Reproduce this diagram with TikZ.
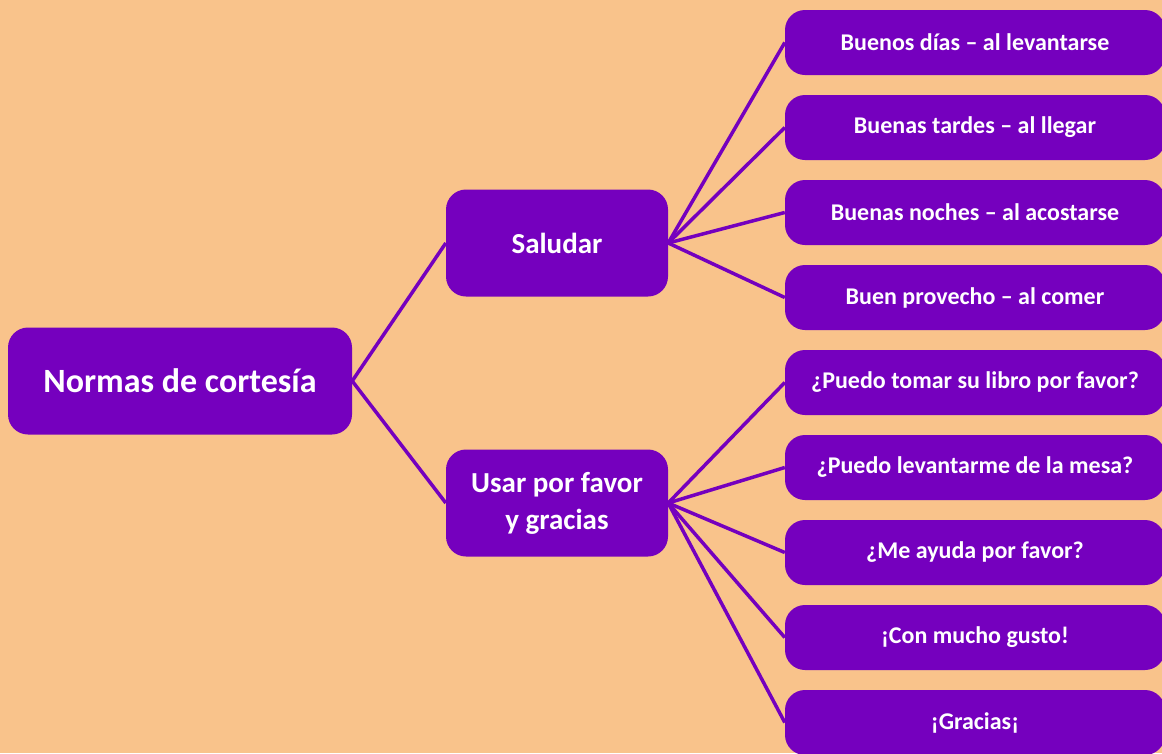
\documentclass[tikz,border=0pt]{standalone}
\usepackage{fontspec}
\setmainfont{Carlito}
\usetikzlibrary{positioning}
\definecolor{fondo}{HTML}{F9C38B}
\definecolor{morado}{HTML}{7500BE}

\begin{document}
\begin{tikzpicture}[x=1pt,y=-1pt,
    caja/.style={fill=morado,rounded corners=20pt,text=white,align=center,inner sep=0pt},
    raiz/.style={caja,minimum width=344pt,minimum height=107pt,font=\bfseries\fontsize{34}{40}\selectfont},
    rama/.style={caja,minimum width=222pt,minimum height=107pt,font=\bfseries\fontsize{29}{37}\selectfont},
    hoja/.style={caja,minimum width=380pt,minimum height=65pt,font=\bfseries\fontsize{24}{28}\selectfont},
    enlace/.style={morado,line width=3.5pt}]
        \fill[fondo] (0,0) rectangle (1162,753);
        \useasboundingbox (0,0) rectangle (1162,753);
        % tema y ramas
        \node[raiz] (raiz) at (180,381) {Normas de cortesía};
        \node[rama] (sal) at (557,243) {Saludar};
        \node[rama] (usar) at (557,503) {Usar por favor\\y gracias};
        % hojas
        \foreach \t [count=\i] in {Buenos días – al levantarse,Buenas tardes – al llegar,
            Buenas noches – al acostarse,Buen provecho – al comer,
            ¿Puedo tomar su libro por favor?,¿Puedo levantarme de la mesa?,
            ¿Me ayuda por favor?,¡Con mucho gusto!,¡Gracias¡}
          \node[hoja] (h\i) at (975,{42.5+85*(\i-1)}) {\t};
        \draw[enlace] (raiz.east) -- (sal.west);
        \draw[enlace] (raiz.east) -- (usar.west);
        \foreach \i in {1,...,4}
          \draw[enlace] (sal.east) -- (h\i.west);
        \foreach \i in {5,...,9}
          \draw[enlace] (usar.east) -- (h\i.west);
      \end{tikzpicture}
\end{document}
